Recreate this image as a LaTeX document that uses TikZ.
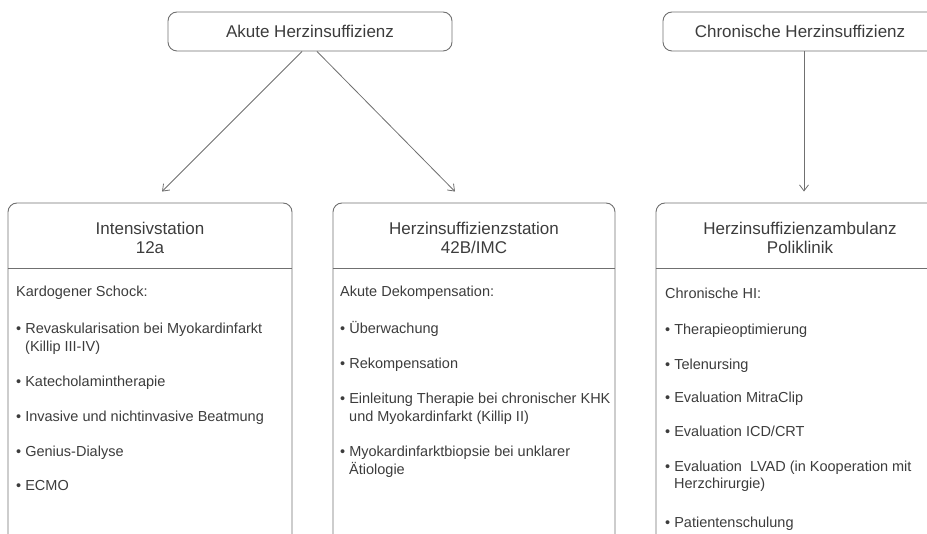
\documentclass[tikz,border=0pt]{standalone}
\usepackage{fontspec}
\setmainfont{Liberation Sans}
\usetikzlibrary{arrows.meta,calc}
\definecolor{txt}{HTML}{3C3C3C}
\definecolor{ln}{HTML}{707070}
\begin{document}
\begin{tikzpicture}[x=1pt,y=-1pt,
  box/.style={draw=ln, line width=0.9pt, rounded corners=9pt, inner sep=0pt},
  ttl/.style={text=txt, font=\fontsize{17}{19}\selectfont, align=center, inner sep=0pt},
  body/.style={anchor=base west, inner sep=0pt, text=txt, font=\fontsize{14.5}{17.5}\selectfont},
  arr/.style={draw=ln, line width=0.8pt, -{Straight Barb[length=6pt,width=9pt]}},
  divider/.style={draw=ln, line width=0.9pt}]
\useasboundingbox (0,0) rectangle (927,534);
\clip (0,0) rectangle (927,534);
% top boxes
\node[box, minimum width=284pt, minimum height=39pt] (akute) at (310,31.5) {};
\node[ttl] (akutet) at (310,31.5) {Akute Herzinsuffizienz};
\node[box, minimum width=274pt, minimum height=39pt] (chron) at (800,31.5) {};
\node[ttl] (chront) at (800,31.5) {Chronische Herzinsuffizienz};
% lower boxes
\node[box, minimum width=284pt, minimum height=357pt] (intensiv) at (150,381.5) {};
\node[box, minimum width=282pt, minimum height=357pt] (station) at (474,381.5) {};
\node[box, minimum width=284pt, minimum height=357pt] (ambulanz) at (798,381.5) {};
\coordinate (dv) at (0,268);
\draw[divider] (intensiv.west |- dv) -- (intensiv.east |- dv);
\draw[divider] (station.west |- dv) -- (station.east |- dv);
\draw[divider] (ambulanz.west |- dv) -- (ambulanz.east |- dv);
\node[ttl] (t1) at (150,237.5) {Intensivstation\\12a};
\node[ttl] (t2) at (474,237.5) {Herzinsuffizienzstation\\42B/IMC};
\node[ttl] (t3) at (800,237.5) {Herzinsuffizienzambulanz\\Poliklinik};
% arrows
\draw[arr] ($(akute.south)+(-8,0)$) -- ($(intensiv.north)+(12,-11)$);
\draw[arr] ($(akute.south)+(7,0)$) -- ($(station.north)+(-19,-11)$);
\draw[arr] ($(chron.south)+(4,0)$) -- ($(ambulanz.north)+(6,-11)$);
% box 1 text
\node[body] (a0) at (16,297) {Kardogener Schock:};
\node[body] (a1) at (16,334) {• Revaskularisation bei Myokardinfarkt};
\node[body] (a1b) at (25,352) {(Killip III-IV)};
\node[body] (a2) at (16,387) {• Katecholamintherapie};
\node[body] (a3) at (16,422) {• Invasive und nichtinvasive Beatmung};
\node[body] (a4) at (16,457) {• Genius-Dialyse};
\node[body] (a5) at (16,491) {• ECMO};
% box 2 text
\node[body] (b0) at (340,297) {Akute Dekompensation:};
\node[body] (b1) at (340,334) {• Überwachung};
\node[body] (b2) at (340,369) {• Rekompensation};
\node[body] (b3) at (340,404) {• Einleitung Therapie bei chronischer KHK};
\node[body] (b3b) at (349,422) {und Myokardinfarkt (Killip II)};
\node[body] (b4) at (340,457) {• Myokardinfarktbiopsie bei unklarer};
\node[body] (b4b) at (349,475) {Ätiologie};
% box 3 text
\node[body] (c0) at (665,299) {Chronische HI:};
\node[body] (c1) at (665,335) {• Therapieoptimierung};
\node[body] (c2) at (665,370) {• Telenursing};
\node[body] (c3) at (665,403) {• Evaluation MitraClip};
\node[body] (c4) at (665,437) {• Evaluation ICD/CRT};
\node[body] (c5) at (665,472) {• Evaluation\ \ LVAD (in Kooperation mit};
\node[body] (c5b) at (674,489) {Herzchirurgie)};
\node[body] (c6) at (665,527) {• Patientenschulung};
\end{tikzpicture}
\end{document}
